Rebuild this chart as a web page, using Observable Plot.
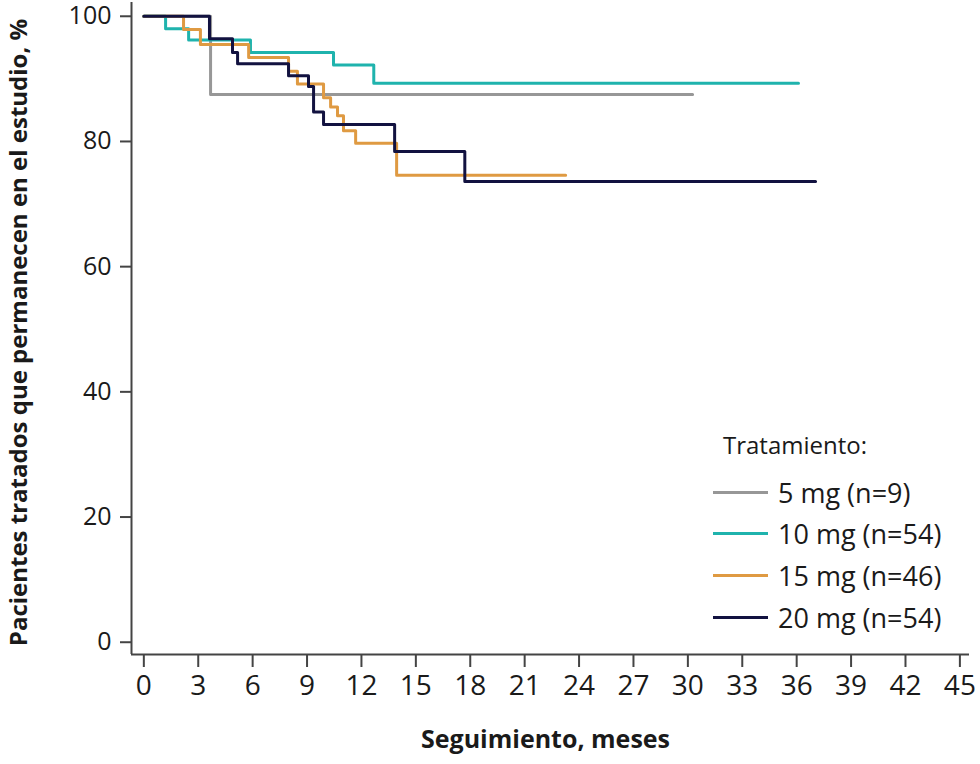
<!DOCTYPE html>
<html><head><meta charset="utf-8">
<script src="https://cdn.jsdelivr.net/npm/d3@7"></script>
<script src="https://cdn.jsdelivr.net/npm/@observablehq/plot@0.6"></script>
<style>
body{margin:0;background:#fff;}
#wrap{position:relative;width:980px;height:764px;font-family:"Open Sans",sans-serif;color:#1a1a1a;}
.leg{position:absolute;white-space:nowrap;}
.legtitle{font-size:24px;}
.legrow{font-size:27px;display:flex;align-items:center;}
.sw{display:inline-block;width:55px;height:3px;margin-right:10px;}
</style></head><body><div id="wrap"></div>
<script>
// Data
const seriesNames = ["5 mg (n=9)", "10 mg (n=54)", "15 mg (n=46)", "20 mg (n=54)"];
const seriesColors = ["#979797", "#1fb3ad", "#df9a42", "#121240"];
const legendTitle = "Tratamiento:";
const xTitle = "Seguimiento, meses";
const yTitle = "Pacientes tratados que permanecen en el estudio, %";
const xTicks = [0, 3, 6, 9, 12, 15, 18, 21, 24, 27, 30, 33, 36, 39, 42, 45];
const yTicks = [0, 20, 40, 60, 80, 100];
const xDomain = [-0.68, 45.53];
const yDomain = [-1.96, 102.2];

const months5 = [0, 3.68, 30.26];
const pct5    = [100, 87.5, 87.5];
const months10 = [0, 1.2, 2.47, 5.88, 10.46, 12.68, 36.1];
const pct10    = [100, 98.0, 96.2, 94.2, 92.2, 89.3, 89.3];
const months15 = [0, 2.19, 3.12, 5.78, 7.98, 8.47, 9.91, 10.3, 10.68, 11.01, 11.68, 13.94, 23.26];
const pct15    = [100, 97.9, 95.5, 93.4, 91.2, 89.2, 87.0, 85.5, 84.1, 81.7, 79.7, 74.6, 74.6];
const months20 = [0, 3.62, 4.89, 5.17, 7.98, 9.08, 9.36, 9.91, 13.83, 17.7, 37.04];
const pct20    = [100, 96.4, 94.2, 92.4, 90.5, 88.8, 84.7, 82.7, 78.4, 73.6, 73.6];

const allMonths = [months5, months10, months15, months20];
const allPct = [pct5, pct10, pct15, pct20];
const rows = [];
allMonths.forEach((ms, i) => ms.forEach((m, j) => rows.push({series: seriesNames[i], month: m, pct: allPct[i][j]})));

const chart = Plot.plot({
  width: 980, height: 764,
  marginLeft: 131, marginRight: 11, marginTop: 2, marginBottom: 110,
  style: {fontFamily: '"Open Sans", sans-serif', color: "#1a1a1a", background: "#fff", overflow: "visible"},
  x: {domain: xDomain},
  y: {domain: yDomain},
  color: {domain: seriesNames, range: seriesColors},
  marks: [
    Plot.axisX({ticks: xTicks, tickSize: 13, tickPadding: 8, fontSize: 28, label: null, stroke: "#444", strokeWidth: 2, tickFormat: d => String(d)}),
    Plot.axisY({ticks: yTicks, tickSize: 11, tickPadding: 9, fontSize: 25, label: null, stroke: "#444", strokeWidth: 2, tickFormat: d => String(d)}),
    Plot.ruleX([xDomain[0]], {stroke: "#444", strokeWidth: 2}),
    Plot.ruleY([yDomain[0]], {stroke: "#444", strokeWidth: 2}),
    Plot.line(rows, {x: "month", y: "pct", z: "series", stroke: "series", strokeWidth: 3, curve: "step-after"}),
    Plot.text([yTitle], {frameAnchor: "left", textAnchor: "middle", rotate: -90, dx: -112, dy: 4, fontSize: 24, fontWeight: "bold", fill: "#1a1a1a"}),
    Plot.text([xTitle], {frameAnchor: "bottom", textAnchor: "middle", dx: -5, dy: 93, fontSize: 25, fontWeight: "bold", fill: "#1a1a1a"})
  ]
});
const wrap = document.getElementById("wrap");
wrap.appendChild(chart);

const t = document.createElement("div");
t.className = "leg legtitle";
t.style.left = "723px"; t.style.top = "428px";
t.textContent = legendTitle;
wrap.appendChild(t);
const rowCenters = [492, 533, 575, 617];
seriesNames.forEach((name, i) => {
  const r = document.createElement("div");
  r.className = "leg legrow";
  r.style.left = "713px";
  r.style.top = (rowCenters[i] - 19) + "px";
  r.style.height = "38px";
  const sw = document.createElement("span");
  sw.className = "sw"; sw.style.background = seriesColors[i];
  const tx = document.createElement("span");
  tx.textContent = name;
  r.appendChild(sw); r.appendChild(tx);
  wrap.appendChild(r);
});
</script></body></html>
